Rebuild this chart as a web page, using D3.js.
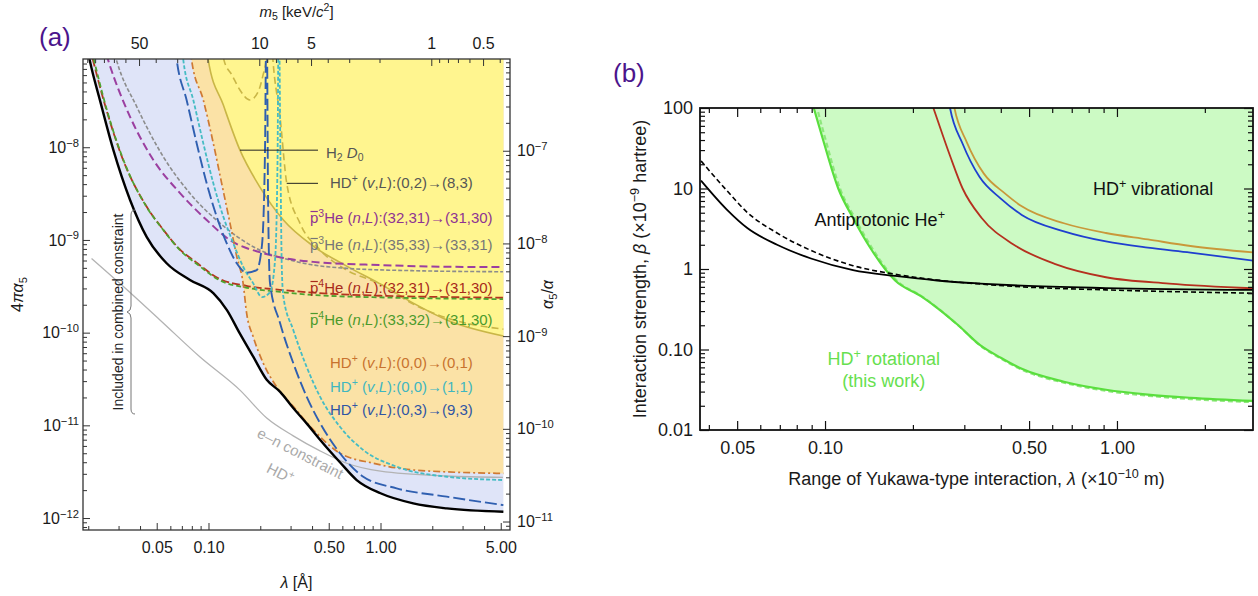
<!DOCTYPE html>
<html>
<head>
<meta charset="utf-8">
<script src="https://cdn.jsdelivr.net/npm/d3@7"></script>
<style>
  body { margin: 0; background: #fff; }
  svg { display: block; }
</style>
</head>
<body>
<svg id="fig" width="1258" height="596"></svg>
<script>
// ---------- panel (a): lambda [Å] vs 4*pi*alpha5 ----------
const combinedA = [[0.0203,9.0e-8],[0.0209,7.1e-8],[0.0234,3.2e-8],[0.0280,9.3e-9],[0.0350,2.7e-9],[0.0437,1.08e-9],
  [0.0571,5.6e-10],[0.078,3.7e-10],[0.107,2.65e-10],[0.128,1.75e-10],[0.152,9.8e-11],[0.182,5.5e-11],[0.218,3.1e-11],
  [0.261,2.3e-11],[0.311,1.54e-11],[0.372,1.05e-11],[0.445,7.0e-12],[0.581,4.0e-12],[0.727,2.57e-12],[1.0,1.85e-12],
  [1.55,1.44e-12],[2.43,1.27e-12],[5.18,1.17e-12]];
const pbar4He3231 = [[0.0212,9.0e-8],[0.0254,2.6e-8],[0.0317,7.5e-9],[0.0433,2.35e-9],[0.0541,1.32e-9],[0.0677,8.0e-10],
  [0.0846,5.75e-10],[0.116,3.8e-10],[0.166,3.2e-10],[0.26,2.9e-10],[0.405,2.7e-10],[1.0,2.5e-10],[2.43,2.42e-10],[5.15,2.38e-10]];
const pbar4He3332 = [[0.0215,9.0e-8],[0.0257,2.5e-8],[0.0321,7.2e-9],[0.0438,2.25e-9],[0.0548,1.27e-9],[0.0685,7.7e-10],
  [0.0856,5.5e-10],[0.117,3.65e-10],[0.167,3.05e-10],[0.261,2.75e-10],[0.405,2.55e-10],[1.0,2.4e-10],[2.43,2.33e-10],[5.15,2.3e-10]];
const pbar3He3231 = [[0.0255,1.0e-7],[0.0261,8.7e-8],[0.035,2.13e-8],[0.0478,7.3e-9],[0.0683,3.2e-9],[0.0976,1.64e-9],
  [0.133,1.0e-9],[0.208,7.2e-10],[0.406,5.8e-10],[1.0,5.36e-10],[2.43,5.14e-10],[5.18,5.1e-10]];
const pbar3He3533 = [[0.0286,1.0e-7],[0.0292,8.7e-8],[0.0383,2.73e-8],[0.0546,7.9e-9],[0.078,3.18e-9],[0.117,1.51e-9],
  [0.182,8.45e-10],[0.326,5.82e-10],[0.636,4.94e-10],[1.55,4.66e-10],[5.15,4.54e-10]];
const hd0393 = [[0.064,1.2e-7],[0.0654,8.7e-8],[0.0746,3.23e-8],[0.0854,1.1e-8],[0.0976,4.08e-9],[0.1117,1.78e-9],
  [0.1277,9.2e-10],[0.146,5.6e-10],[0.1667,4.43e-10],[0.1906,4.73e-10],[0.2046,8.8e-10],[0.2131,9.3e-9],[0.2165,1.5e-7],
  [0.2185,1.5e-7],[0.222,2.69e-9],[0.2278,3.43e-10],[0.2606,1.27e-10],[0.311,4.7e-11],[0.372,2.04e-11],[0.445,1.06e-11],
  [0.581,5.0e-12],[0.794,2.79e-12],[1.24,2.09e-12],[2.43,1.7e-12],[5.18,1.38e-12]];
const hd0011 = [[0.070,1.2e-7],[0.0714,8.7e-8],[0.0816,3.23e-8],[0.0933,1.1e-8],[0.1067,4.08e-9],[0.122,1.78e-9],
  [0.1394,9.2e-10],[0.159,5.14e-10],[0.182,3.4e-10],[0.2046,2.42e-10],[0.2278,2.74e-10],[0.2437,6.07e-10],[0.252,7.28e-9],
  [0.2552,1.5e-7],[0.2575,1.5e-7],[0.262,7.28e-9],[0.2667,5.14e-10],[0.2725,2.44e-10],[0.311,1.07e-10],[0.372,4.28e-11],
  [0.445,2.04e-11],[0.581,9.66e-12],[0.794,5.42e-12],[1.24,3.58e-12],[2.43,2.79e-12],[5.18,2.57e-12]];
const hd0001 = [[0.0785,1.2e-7],[0.0798,8.7e-8],[0.0933,3.23e-8],[0.1067,1.1e-8],[0.1193,4.08e-9],[0.1334,1.51e-9],
  [0.146,6.6e-10],[0.159,3.4e-10],[0.1667,1.61e-10],[0.182,9.0e-11],[0.208,4.7e-11],[0.249,2.6e-11],[0.311,1.6e-11],
  [0.406,9.0e-12],[0.581,5.0e-12],[0.908,3.9e-12],[1.55,3.3e-12],[5.18,3.03e-12]];
const h2D0 = [[0.098,1.2e-7],[0.0997,8.7e-8],[0.122,2.85e-8],[0.1524,9.3e-9],[0.199,3.72e-9],[0.2725,1.64e-9],
  [0.406,8.6e-10],[0.636,5.22e-10],[1.0,3.34e-10],[1.55,2.08e-10],[2.43,1.37e-10],[5.18,9.2e-11]];
const hd0283 = [[0.121,1.2e-7],[0.123,8.7e-8],[0.137,6.0e-8],[0.1524,4.14e-8],[0.174,3.23e-8],[0.194,3.93e-8],
  [0.2075,6.0e-8],[0.216,8.7e-8],[0.219,1.2e-7],[0.234,1.2e-7],[0.237,8.7e-8],[0.2606,2.13e-8],[0.285,4.08e-9],
  [0.3406,1.51e-9],[0.445,7.8e-10],[0.636,4.73e-10],[1.0,3.34e-10],[1.55,2.03e-10],[2.43,1.44e-10],[5.18,1.09e-10]];
const enHD = [[0.0209,6.32e-10],[0.0313,3.26e-10],[0.0522,1.37e-10],[0.0893,5.46e-11],[0.1524,2.4e-11],[0.218,1.2e-11],
  [0.311,7.7e-12],[0.445,5.3e-12],[0.636,3.9e-12],[1.0,3.2e-12],[2.43,2.84e-12],[5.15,2.75e-12]];

const xTicksA = [0.05, 0.1, 0.5, 1, 5];
const xLabelsA = ["0.05", "0.10", "0.50", "1.00", "5.00"];
const yTicksA = [1e-12, 1e-11, 1e-10, 1e-9, 1e-8];
const yLabelsA = ["10^{−12}", "10^{−11}", "10^{−10}", "10^{−9}", "10^{−8}"];
const rTicksA = [1e-11, 1e-10, 1e-9, 1e-8, 1e-7];
const rLabelsA = ["10^{−11}", "10^{−10}", "10^{−9}", "10^{−8}", "10^{−7}"];
const mTicksA = [50, 10, 5, 1, 0.5];
const mLabelsA = ["50", "10", "5", "1", "0.5"];

// ---------- panel (b): lambda [1e-10 m] vs beta [1e-9 hartree] ----------
const antiSolid = [[0.0376,12.5],[0.046,5.5],[0.0543,3.2],[0.0685,2.0],[0.0895,1.35],[0.1247,0.97],[0.1738,0.82],
  [0.242,0.72],[0.340,0.66],[0.473,0.62],[0.917,0.58],[2.97,0.55]];
const antiDashed = [[0.0376,22],[0.046,9.5],[0.0543,5.0],[0.0685,2.8],[0.0895,1.7],[0.1247,1.1],[0.1738,0.86],
  [0.242,0.73],[0.340,0.65],[0.473,0.6],[0.917,0.55],[2.97,0.5]];
const rotSolid = [[0.089,140],[0.0915,100],[0.0985,40],[0.111,10],[0.1247,4.3],[0.1426,1.85],[0.1738,0.72],[0.213,0.46],
  [0.242,0.33],[0.286,0.2],[0.338,0.115],[0.40,0.079],[0.472,0.0575],[0.658,0.0398],[0.917,0.0316],[1.276,0.0275],
  [1.786,0.0251],[2.97,0.0229]];
const rotDashed = [[0.092,140],[0.094,100],[0.1005,40],[0.1125,10],[0.1265,4.3],[0.1445,1.85],[0.176,0.72],[0.216,0.45],
  [0.245,0.32],[0.289,0.193],[0.341,0.111],[0.403,0.076],[0.476,0.0555],[0.662,0.0385],[0.92,0.0306],[1.28,0.0266],
  [1.79,0.0242],[2.97,0.0221]];
const vibRed = [[0.2245,160],[0.235,100],[0.268,25.5],[0.296,10],[0.344,4.3],[0.442,2.02],[0.615,1.15],[0.917,0.79],
  [1.51,0.66],[2.97,0.575]];
const vibBlue = [[0.262,160],[0.268,100],[0.296,36],[0.338,14],[0.40,7.5],[0.472,4.7],[0.658,2.94],[0.917,2.2],
  [1.276,1.84],[1.786,1.6],[2.97,1.26]];
const vibGold = [[0.271,160],[0.2775,100],[0.306,37.5],[0.35,15.3],[0.413,8.7],[0.472,6.0],[0.658,3.7],[0.917,2.8],
  [1.276,2.33],[1.786,1.93],[2.97,1.6]];

const xTicksB = [0.05, 0.1, 0.5, 1];
const xLabelsB = ["0.05", "0.10", "0.50", "1.00"];
const yTicksB = [0.01, 0.1, 1, 10, 100];
const yLabelsB = ["0.01", "0.10", "1", "10", "100"];

const FONT = '"Liberation Sans", Arial, Helvetica, sans-serif';
const HC_KEV_A = 1.97327;              // m5 [keV/c^2] * lambda [Å]
const ALPHA_RATIO = 137.036 / (4 * Math.PI);

const svg = d3.select("#fig").attr("font-family", FONT);

// mini markup: ^{sup} _{sub} *italic*
function rich(sel, markup, size) {
  const parts = markup.match(/\^\{[^}]*\}|_\{[^}]*\}|\*[^*]+\*|[^^_*]+/g);
  if (!parts) return sel;
  let cur = 0;
  parts.forEach(p => {
    const ts = sel.append("tspan");
    let off = 0;
    if (p[0] === "^") { ts.text(p.slice(2, -1)).attr("font-size", size * 0.7); off = -size * 0.38; }
    else if (p[0] === "_") { ts.text(p.slice(2, -1)).attr("font-size", size * 0.7); off = size * 0.22; }
    else if (p[0] === "*") { ts.text(p.slice(1, -1)).attr("font-style", "italic"); }
    else ts.text(p);
    if (off !== cur) ts.attr("dy", off - cur);
    cur = off;
  });
  return sel;
}

function label(parent, x, y, markup, size, color, anchor) {
  const t = parent.append("text").attr("x", x).attr("y", y).attr("font-size", size)
    .attr("fill", color).attr("text-anchor", anchor || "start");
  return rich(t, markup, size);
}

function isMajor(v, majors) {
  return majors.some(m => Math.abs(Math.log10(m) - Math.log10(v)) < 1e-6);
}

function frameAxis(parent, tr, orient, scale, majors, labels, opt) {
  const mk = { bottom: d3.axisBottom, top: d3.axisTop, left: d3.axisLeft, right: d3.axisRight }[orient];
  const minors = scale.ticks().filter(v => !isMajor(v, majors));
  const gMin = parent.append("g").attr("transform", tr)
    .call(mk(scale).tickValues(minors).tickSize(-opt.minor).tickFormat(""));
  const gMaj = parent.append("g").attr("transform", tr)
    .call(mk(scale).tickValues(majors).tickSize(-opt.major).tickPadding(opt.pad)
      .tickFormat((d, i) => labels ? labels[i] : ""));
  [gMin, gMaj].forEach(g => {
    g.select(".domain").remove();
    g.selectAll("line").attr("stroke", opt.color).attr("stroke-width", opt.sw);
  });
  gMaj.attr("font-size", opt.size).attr("font-family", FONT);
  gMaj.selectAll("text").attr("fill", "#1a1a1a").each(function () {
    const m = this.textContent;
    rich(d3.select(this).text(null), m, opt.size);
  });
}

// ================= panel (a) =================
const A = { left: 83, right: 510, top: 59, bottom: 530 };
const xA = d3.scaleLog().domain([0.01864, 5.66]).range([A.left, A.right]);
const yA = d3.scaleLog().domain([Math.pow(10, -12.129), Math.pow(10, -7.048)]).range([A.bottom, A.top]);
const yRA = d3.scaleLog().domain(yA.domain().map(v => v * ALPHA_RATIO)).range([A.bottom, A.top]);
const mA = d3.scaleLog().domain(xA.domain().map(l => HC_KEV_A / l)).range([A.left, A.right]);

const defs = svg.append("defs");
defs.append("clipPath").attr("id", "clipA").append("rect")
  .attr("x", A.left).attr("y", A.top).attr("width", A.right - A.left).attr("height", A.bottom - A.top);

const gA = svg.append("g");
const plotA = gA.append("g").attr("clip-path", "url(#clipA)");
const areaA = d3.area().curve(d3.curveMonotoneX).x(d => xA(d[0])).y0(d => yA(d[1])).y1(A.top);
const lineA = d3.line().curve(d3.curveMonotoneX).x(d => xA(d[0])).y(d => yA(d[1]));

plotA.append("path").attr("d", areaA(combinedA)).attr("fill", "#dfe4f8");
plotA.append("path").attr("d", areaA(hd0001)).attr("fill", "#fbe2a6");
plotA.append("path").attr("d", areaA(h2D0)).attr("fill", "#fff58f");

const seriesA = [
  { d: enHD, c: "#b3b3b3", w: 1.3, dash: null },
  { d: h2D0, c: "#c9b647", w: 1.6, dash: null },
  { d: hd0283, c: "#c9b647", w: 1.6, dash: "7,4" },
  { d: pbar3He3533, c: "#8c8c8c", w: 1.6, dash: "4,2" },
  { d: pbar3He3231, c: "#9b3fa0", w: 2.0, dash: "8,4" },
  { d: pbar4He3231, c: "#b5341f", w: 1.8, dash: "8,3" },
  { d: pbar4He3332, c: "#4ea32f", w: 1.8, dash: "5,3" },
  { d: hd0001, c: "#cf7a33", w: 1.7, dash: "7,3,2,3" },
  { d: hd0011, c: "#45bcc4", w: 1.8, dash: "4,2" },
  { d: hd0393, c: "#2f5fb0", w: 1.9, dash: "12,4" },
  { d: combinedA, c: "#000", w: 2.4, dash: null }
];
seriesA.forEach(s => {
  plotA.append("path").attr("d", lineA(s.d)).attr("fill", "none").attr("stroke", s.c)
    .attr("stroke-width", s.w).attr("stroke-dasharray", s.dash);
});

const tickA = { major: 7, minor: 4, color: "#333", sw: 1, size: 16 };
frameAxis(gA, `translate(0,${A.bottom})`, "bottom", xA, xTicksA, xLabelsA, { ...tickA, pad: 12 });
frameAxis(gA, `translate(0,${A.top})`, "top", mA, mTicksA, mLabelsA, { ...tickA, pad: 10 });
frameAxis(gA, `translate(${A.left},0)`, "left", yA, yTicksA, yLabelsA, { ...tickA, pad: 4 });
frameAxis(gA, `translate(${A.right},0)`, "right", yRA, rTicksA, rLabelsA, { ...tickA, pad: 7 });
gA.append("rect").attr("x", A.left).attr("y", A.top).attr("width", A.right - A.left)
  .attr("height", A.bottom - A.top).attr("fill", "none").attr("stroke", "#333").attr("stroke-width", 1.3);

// axis titles
label(gA, (A.left + A.right) / 2, 17, "*m*_{5} [keV/*c*^{2}]", 15, "#1a1a1a", "middle");
label(gA, (A.left + A.right) / 2, 588, "*λ* [Å]", 16, "#1a1a1a", "middle");
label(gA, 0, 0, "4*π**α*_{5}", 16, "#1a1a1a", "middle").attr("transform", `translate(23,${(A.top + A.bottom) / 2}) rotate(-90)`);
label(gA, 0, 0, "*α*_{5}/*α*", 16, "#1a1a1a", "middle").attr("transform", `translate(553,${(A.top + A.bottom) / 2}) rotate(-90)`);
label(svg, 39, 46, "(a)", 26, "#4b148c");

// pointer lines for the two upper labels
const ptrH2 = h2D0[3], ptrHD = hd0283[12];
gA.append("line").attr("x1", xA(ptrH2[0])).attr("y1", yA(ptrH2[1])).attr("x2", 318).attr("y2", yA(ptrH2[1]))
  .attr("stroke", "#222").attr("stroke-width", 1);
gA.append("line").attr("x1", xA(ptrHD[0])).attr("y1", yA(ptrHD[1])).attr("x2", 318).attr("y2", yA(ptrHD[1]))
  .attr("stroke", "#222").attr("stroke-width", 1);

const labelsA = [
  { x: 326, y: 158, m: "H_{2} *D*_{0}", c: "#555" },
  { x: 330, y: 188, m: "HD^{+} (*v*,*L*):(0,2)→(8,3)", c: "#555" },
  { x: 310, y: 223, m: "p^{3}He (*n*,*L*):(32,31)→(31,30)", c: "#8e3393", bar: true },
  { x: 310, y: 250, m: "p^{3}He (*n*,*L*):(35,33)→(33,31)", c: "#777", bar: true },
  { x: 310, y: 293, m: "p^{4}He (*n*,*L*):(32,31)→(31,30)", c: "#a82a1c", bar: true },
  { x: 310, y: 325, m: "p^{4}He (*n*,*L*):(33,32)→(31,30)", c: "#4b9a2c", bar: true },
  { x: 330, y: 368, m: "HD^{+} (*v*,*L*):(0,0)→(0,1)", c: "#c8722e" },
  { x: 330, y: 392, m: "HD^{+} (*v*,*L*):(0,0)→(1,1)", c: "#3fb6c0" },
  { x: 330, y: 415, m: "HD^{+} (*v*,*L*):(0,3)→(9,3)", c: "#2f55a4" }
];
labelsA.forEach(l => {
  const t = label(gA, l.x, l.y, l.m, 15, l.c);
  if (l.bar) {
    const e = t.node().getExtentOfChar(0);
    gA.append("line").attr("x1", e.x + 0.5).attr("x2", e.x + e.width - 0.5)
      .attr("y1", l.y - 11.5).attr("y2", l.y - 11.5).attr("stroke", l.c).attr("stroke-width", 1.2);
  }
});

label(gA, 0, 0, "e–n constraint", 15, "#aaa", "middle").attr("transform", "translate(298,458) rotate(27)");
label(gA, 0, 0, "HD^{+}", 15, "#aaa", "middle").attr("transform", "translate(278,478) rotate(27)");
label(gA, 0, 0, "Included in combined constraint", 14, "#222", "middle")
  .attr("dominant-baseline", "central").attr("transform", "translate(118,312) rotate(-90)");
gA.append("path")
  .attr("d", "M135,210 q-4,0 -4,5 L131,306 q0,5 -4,6 q4,1 4,6 L131,409 q0,5 4,5")
  .attr("fill", "none").attr("stroke", "#777").attr("stroke-width", 1);

// ================= panel (b) =================
const B = { left: 700, right: 1253, top: 108, bottom: 430 };
const xB = d3.scaleLog().domain([0.0373, 2.924]).range([B.left, B.right]);
const yB = d3.scaleLog().domain([0.01, 100]).range([B.bottom, B.top]);

defs.append("clipPath").attr("id", "clipB").append("rect")
  .attr("x", B.left).attr("y", B.top).attr("width", B.right - B.left).attr("height", B.bottom - B.top);

const gB = svg.append("g");
const plotB = gB.append("g").attr("clip-path", "url(#clipB)");
const lineB = d3.line().curve(d3.curveMonotoneX).x(d => xB(d[0])).y(d => yB(d[1]));
const areaB = d3.area().curve(d3.curveMonotoneX).x(d => xB(d[0])).y0(d => yB(d[1])).y1(B.top);

plotB.append("path").attr("d", areaB(rotSolid.concat([[5, 0.0229]]))).attr("fill", "#ccfac4");
const seriesB = [
  { d: rotDashed, c: "#8ee87c", w: 2.2, dash: "5,3" },
  { d: rotSolid, c: "#5ade3e", w: 2.2, dash: null },
  { d: vibRed, c: "#b5301f", w: 1.8, dash: null },
  { d: vibBlue, c: "#1f3fcf", w: 1.8, dash: null },
  { d: vibGold, c: "#c9983a", w: 1.8, dash: null },
  { d: antiSolid, c: "#000", w: 1.8, dash: null },
  { d: antiDashed, c: "#000", w: 1.6, dash: "5,3" }
];
seriesB.forEach(s => {
  plotB.append("path").attr("d", lineB(s.d)).attr("fill", "none").attr("stroke", s.c)
    .attr("stroke-width", s.w).attr("stroke-dasharray", s.dash);
});

const tickB = { major: 9, minor: 5, color: "#111", sw: 1.2, size: 18 };
frameAxis(gB, `translate(0,${B.bottom})`, "bottom", xB, xTicksB, xLabelsB, { ...tickB, pad: 11 });
frameAxis(gB, `translate(0,${B.top})`, "top", xB, xTicksB, null, { ...tickB, pad: 4 });
frameAxis(gB, `translate(${B.left},0)`, "left", yB, yTicksB, yLabelsB, { ...tickB, pad: 7 });
frameAxis(gB, `translate(${B.right},0)`, "right", yB, yTicksB, null, { ...tickB, pad: 4 });
gB.append("rect").attr("x", B.left).attr("y", B.top).attr("width", B.right - B.left)
  .attr("height", B.bottom - B.top).attr("fill", "none").attr("stroke", "#111").attr("stroke-width", 1.8);

label(gB, (B.left + B.right) / 2, 485, "Range of Yukawa-type interaction, *λ* (×10^{−10} m)", 18, "#1a1a1a", "middle");
label(gB, 0, 0, "Interaction strength, *β* (×10^{−9} hartree)", 18, "#1a1a1a", "middle")
  .attr("transform", `translate(646,${(B.top + B.bottom) / 2}) rotate(-90)`);
label(svg, 613, 82, "(b)", 26, "#4b148c");

label(gB, xB(1.33), yB(10) + 6, "HD^{+} vibrational", 18, "#111", "middle");
label(gB, xB(0.154), yB(4.1) + 6, "Antiprotonic He^{+}", 18, "#111", "middle");
label(gB, xB(0.159), yB(0.076) + 6, "HD^{+} rotational", 18, "#66e04e", "middle");
label(gB, xB(0.159), yB(0.041) + 6, "(this work)", 18, "#66e04e", "middle");
</script>
</body>
</html>
